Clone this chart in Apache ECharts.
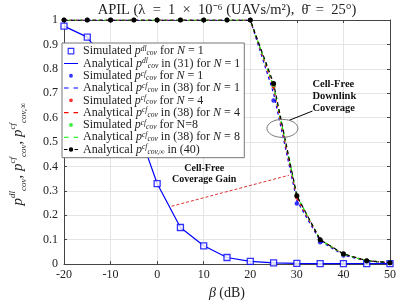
<!DOCTYPE html>
<html><head><meta charset="utf-8">
<script src="https://cdn.jsdelivr.net/npm/echarts@6/dist/echarts.min.js"></script>
<style>html,body{margin:0;padding:0;background:#fff}#c{width:399px;height:305px}</style>
</head><body><div id="c"></div>
<script>
// ---- data ----
const beta = [-20,-15,-10,-5,0,5,10,15,20,25,30,35,40,45,50];
const dlSim = [0.975,0.93,0.80,0.60,0.33,0.15,0.075,0.027,0.011,0.005,0.003,0.002,0.002,0.002,0.002];
const dlAna = [0.975,0.93,0.80,0.60,0.33,0.15,0.075,0.027,0.011,0.005,0.003,0.002,0.002,0.002,0.002];
const cfSimN1 = [1,1,1,1,1,1,1,1,1,0.67,0.248,0.09,0.035,0.012,0.005];
const cfAnaN1 = [1,1,1,1,1,1,1,1,1,0.70,0.26,0.095,0.037,0.013,0.005];
const cfSimN4 = [1,1,1,1,1,1,1,1,1,0.73,0.275,0.10,0.04,0.014,0.005];
const cfAnaN4 = [1,1,1,1,1,1,1,1,1,0.72,0.27,0.10,0.04,0.014,0.005];
const cfSimN8 = [1,1,1,1,1,1,1,1,1,0.735,0.28,0.10,0.04,0.014,0.006];
const cfAnaN8 = [1,1,1,1,1,1,1,1,1,0.73,0.28,0.10,0.04,0.014,0.006];
const cfInf  = [1,1,1,1,1,1,1,1,1,0.74,0.28,0.10,0.042,0.014,0.006];
const xTicks = [-20,-10,0,10,20,30,40,50];
const yTicks = [0,0.1,0.2,0.3,0.4,0.5,0.6,0.7,0.8,0.9,1];

const legendText = {
  s1: '{t|Simulated }{i|p}{sp|dl}{sb|cov}{t| for }{i|N}{t| = 1}',
  a1: '{t|Analytical }{i|p}{sp|dl}{sb|cov}{t| in (31) for }{i|N}{t| = 1}',
  s2: '{t|Simulated }{i|p}{sp|cf}{sb|cov}{t| for }{i|N}{t| = 1}',
  a2: '{t|Analytical }{i|p}{sp|cf}{sb|cov}{t| in (38) for }{i|N}{t| = 1}',
  s3: '{t|Simulated }{i|p}{sp|cf}{sb|cov}{t| for }{i|N}{t| = 4}',
  a3: '{t|Analytical }{i|p}{sp|cf}{sb|cov}{t| in (38) for }{i|N}{t| = 4}',
  s4: '{t|Simulated }{i|p}{sp|cf}{sb|cov}{t| for N=8}',
  a4: '{t|Analytical }{i|p}{sp|cf}{sb|cov}{t| in (38) for }{i|N}{t| = 8}',
  a5: '{t|Analytical }{i|p}{sp|cf}{sb|cov,∞}{t| in (40)}'
};
const pair = a => beta.map((b,i)=>[b,a[i]]);
const SERIF = '"Liberation Serif","DejaVu Serif",serif';
const BLUE='#0000ff', RED='#ff0000', GREEN='#00ee00';

// legend icon shapes (14 x 8 box)
const CORN = 'M0,0h0.05v0.05h-0.05zM13.95,7.95h0.05v0.05h-0.05z';
const ICON = {
  solid: 'path://'+CORN+'M0,3.45h14v1.1h-14z',
  dash: 'path://'+CORN+'M0,3.45h4.5v1.1h-4.5zM9.5,3.45h4.5v1.1h-4.5z',
  dashDot: 'path://'+CORN+'M0,3.45h3.5v1.1h-3.5zM10.5,3.45h3.5v1.1h-3.5zM4.8,4a2.2,2.2 0 1,0 4.4,0a2.2,2.2 0 1,0 -4.4,0z',
  square: 'path://'+CORN+'M3.6,0.6h6.8v6.8h-6.8zM4.8,1.8v4.4h4.4v-4.4z',
  dot: 'path://'+CORN+'M5.1,4a1.9,1.9 0 1,0 3.8,0a1.9,1.9 0 1,0 -3.8,0z'
};
const legendData = [
  {name:'s1',icon:ICON.square,itemStyle:{color:BLUE,borderWidth:0}},
  {name:'a1',icon:ICON.solid,itemStyle:{color:BLUE,borderWidth:0}},
  {name:'s2',icon:ICON.dot,itemStyle:{color:BLUE,borderWidth:0}},
  {name:'a2',icon:ICON.dash,itemStyle:{color:BLUE,borderWidth:0}},
  {name:'s3',icon:ICON.dot,itemStyle:{color:RED,borderWidth:0}},
  {name:'a3',icon:ICON.dash,itemStyle:{color:RED,borderWidth:0}},
  {name:'s4',icon:ICON.dot,itemStyle:{color:GREEN,borderWidth:0}},
  {name:'a4',icon:ICON.dash,itemStyle:{color:GREEN,borderWidth:0}},
  {name:'a5',icon:ICON.dashDot,itemStyle:{color:'#000',borderWidth:0}}
];

const chart = echarts.init(document.getElementById('c'), null, {renderer:'canvas'});
const axCol = '#444';
const LH = 12.3;
const option = {
  animation:false,
  backgroundColor:'#fff',
  grid:{left:62,right:9,top:20,bottom:35},
  xAxis:[{type:'value',min:-20,max:50,interval:10,
    axisLine:{show:true,onZero:false,lineStyle:{color:axCol}},
    axisTick:{inside:true,length:3,lineStyle:{color:axCol}},
    axisLabel:{color:'#222',fontFamily:SERIF,fontSize:12,margin:5,
      formatter:v=>xTicks.includes(v)?String(v):''},
    splitLine:{show:true,lineStyle:{color:'#e4e4e4'}},
    name:'{i|β} {t|(dB)}',nameLocation:'middle',nameGap:21,
    nameTextStyle:{rich:{i:{fontFamily:SERIF,fontStyle:'italic',fontSize:14,color:'#222'},t:{fontFamily:SERIF,fontSize:14,color:'#222'}}}},
   {type:'value',position:'top',min:-20,max:50,interval:10,
    axisLine:{show:true,onZero:false,lineStyle:{color:axCol}},axisTick:{inside:true,length:3,lineStyle:{color:axCol}},
    axisLabel:{show:false},splitLine:{show:false}}],
  yAxis:[{type:'value',min:0,max:1,interval:0.1,
    axisLine:{show:true,onZero:false,lineStyle:{color:axCol}},
    axisTick:{inside:true,length:3,lineStyle:{color:axCol}},
    axisLabel:{color:'#222',fontFamily:SERIF,fontSize:12,margin:6,
      formatter:v=>{const t=yTicks.find(k=>Math.abs(k-v)<1e-9);return t===undefined?'':(t===0?'0':t===1?'1':t.toFixed(1));}},
    splitLine:{show:true,lineStyle:{color:'#e4e4e4'}},
    name:'{i|p}{sp|dl}{sb|cov}{t|, }{i|p}{sp|cf}{sb|cov}{t|, }{i|p}{sp|cf}{sb|cov,∞}',
    nameLocation:'middle',nameGap:36,nameRotate:90,
    nameTextStyle:{padding:[0,24,0,0],rich:{
      i:{fontFamily:SERIF,fontStyle:'italic',fontSize:15,color:'#222',lineHeight:20},
      t:{fontFamily:SERIF,fontSize:15,color:'#222',lineHeight:20},
      sp:{fontFamily:SERIF,fontStyle:'italic',fontSize:9,color:'#222',verticalAlign:'top',lineHeight:20},
      sb:{fontFamily:SERIF,fontStyle:'italic',fontSize:9,color:'#222',verticalAlign:'bottom',lineHeight:20}}}},
   {type:'value',position:'right',min:0,max:1,interval:0.1,
    axisLine:{show:true,onZero:false,lineStyle:{color:axCol}},axisTick:{inside:true,length:3,lineStyle:{color:axCol}},
    axisLabel:{show:false},splitLine:{show:false}}],
  legend:{data:legendData,orient:'vertical',left:62,top:43,itemGap:0,itemWidth:14,itemHeight:8,z:20,
    padding:[2,4,2,2],backgroundColor:'#fff',borderColor:'#777',borderWidth:1,
    formatter:n=>legendText[n],
    textStyle:{rich:{
      t:{fontFamily:SERIF,fontSize:12,color:'#222',lineHeight:LH},
      i:{fontFamily:SERIF,fontStyle:'italic',fontSize:12,color:'#222',lineHeight:LH},
      sp:{fontFamily:SERIF,fontStyle:'italic',fontSize:7.5,color:'#222',verticalAlign:'top',lineHeight:LH},
      sb:{fontFamily:SERIF,fontStyle:'italic',fontSize:7.5,color:'#222',verticalAlign:'bottom',lineHeight:LH}}}},
  series:[
    {name:'a1',type:'line',data:pair(dlAna),symbol:'none',itemStyle:{color:BLUE},lineStyle:{color:BLUE,width:1.2},z:3},
    {name:'s1',type:'scatter',data:pair(dlSim),symbol:'rect',symbolSize:6,
      itemStyle:{color:'#fff',borderColor:BLUE,borderWidth:1.3},z:5},
    {name:'a2',type:'line',data:pair(cfAnaN1),symbol:'none',itemStyle:{color:BLUE},lineStyle:{color:BLUE,width:1.2,type:[3,3]},z:4},
    {name:'a3',type:'line',data:pair(cfAnaN4),symbol:'none',itemStyle:{color:RED},lineStyle:{color:RED,width:1.2,type:[3,3],dashOffset:1},z:4},
    {name:'a4',type:'line',data:pair(cfAnaN8),symbol:'none',itemStyle:{color:GREEN},lineStyle:{color:GREEN,width:1.2,type:[3,3],dashOffset:2},z:4,
      markLine:{silent:true,symbol:['none','arrow'],symbolSize:[0,7],label:{show:false},
        lineStyle:{color:'#e03030',type:[3,2],width:1},
        data:[[{coord:[3.1,0.237]},{coord:[28.3,0.364]}]]}},
    {name:'s2',type:'scatter',data:pair(cfSimN1),symbol:'circle',symbolSize:4.5,itemStyle:{color:BLUE},z:6},
    {name:'s3',type:'scatter',data:pair(cfSimN4),symbol:'circle',symbolSize:4.5,itemStyle:{color:RED},z:6},
    {name:'s4',type:'scatter',data:pair(cfSimN8),symbol:'circle',symbolSize:4.5,itemStyle:{color:GREEN},z:6,
      markLine:{silent:true,symbol:['none','arrow'],symbolSize:[0,7],label:{show:false},
        lineStyle:{color:'#000',type:'solid',width:1},
        data:[[{coord:[33.35,0.627]},{coord:[28.35,0.589]}]]}},
    {name:'a5',type:'line',data:pair(cfInf),symbol:'circle',symbolSize:5,showSymbol:true,
      itemStyle:{color:'#000'},lineStyle:{color:'#000',width:1.2,type:[4,3]},z:7}
  ]
};
chart.setOption(option);

const p1 = chart.convertToPixel({xAxisIndex:0,yAxisIndex:0},[10.1,0.368]);
const p2 = chart.convertToPixel({xAxisIndex:0,yAxisIndex:0},[33.35,0.76]);
const pe = chart.convertToPixel({xAxisIndex:0,yAxisIndex:0},[26.9,0.556]);
const bold = 'bold 10px "Liberation Serif",serif';
chart.setOption({graphic:[
  {type:'text',x:227,y:3,style:{text:'APIL (λ\u2002=\u20021\u2002×\u200210⁻⁶ (UAVs/m²),\u2002θ̄\u2002=\u200225°)',textAlign:'center',
    font:'14.5px "Liberation Serif",serif',fill:'#222'}},
  {type:'text',x:p1[0],y:p1[1],style:{text:'Cell-Free\nCoverage Gain',textAlign:'center',textVerticalAlign:'middle',
    font:bold,fill:'#111',lineHeight:11}},
  {type:'text',x:p2[0],y:p2[1],style:{text:'Cell-Free\nDownlink\nCoverage',textAlign:'left',textVerticalAlign:'top',
    font:'bold 10.5px "Liberation Serif",serif',fill:'#111',lineHeight:12}},
  {type:'ellipse',shape:{cx:pe[0],cy:pe[1],rx:15.5,ry:9},style:{fill:'none',stroke:'#777',lineWidth:1},z:100}
]});
</script></body></html>
